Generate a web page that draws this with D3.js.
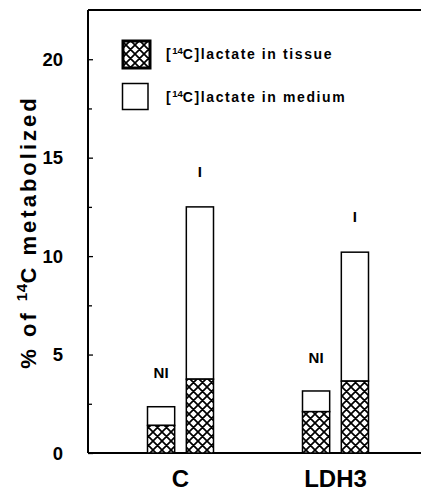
<!DOCTYPE html>
<html>
<head>
<meta charset="utf-8">
<script src="https://cdn.jsdelivr.net/npm/d3@7"></script>
<style>
  body { margin: 0; background: #fff; }
  svg { display: block; font-family: "Liberation Sans", Arial, sans-serif; font-weight: bold; }
</style>
</head>
<body>
<svg id="chart" width="421" height="494"></svg>
<script>
// values
const groups = ["C", "LDH3"];
const conditions = ["NI", "I"];
const tissueVals = [[1.4, 3.75], [2.1, 3.65]];   // hatched part
const totalVals = [[2.35, 12.5], [3.15, 10.2]];  // bar top (tissue + medium)
const labelVals = [[4.1, 14.3], [4.85, 12.0]];   // where NI / I labels sit
const yTicks = [0, 5, 10, 15, 20];
const yMinor = [2.5, 7.5, 12.5, 17.5];
const legendLabels = ["lactate in tissue", "lactate in medium"];

const svg = d3.select("#chart");
const plotLeft = 88, plotRight = 421, plotTop = 10, plotBottom = 453;

const y = d3.scaleLinear().domain([0, 22.5]).range([plotBottom, plotTop]);
const x = d3.scaleBand().domain(groups).range([103, 413]);
const xInner = d3.scaleBand().domain(conditions).range([-33, 33]).paddingInner(0.3);

// hatch pattern
const defs = svg.append("defs");
const pat = defs.append("pattern")
    .attr("id", "hatch")
    .attr("patternUnits", "userSpaceOnUse")
    .attr("width", 9).attr("height", 9);
pat.append("rect").attr("width", 9).attr("height", 9).attr("fill", "#fff");
pat.append("path")
    .attr("d", "M0,0 L9,9 M9,0 L0,9 M-1,8 L1,10 M8,-1 L10,1 M-1,1 L1,-1 M8,10 L10,8")
    .attr("stroke", "#000").attr("stroke-width", 1.7);

// frame lines
svg.append("line").attr("x1", plotLeft).attr("x2", plotRight).attr("y1", plotTop).attr("y2", plotTop)
    .attr("stroke", "#000").attr("stroke-width", 1.8);
svg.append("line").attr("x1", plotLeft).attr("x2", plotRight).attr("y1", plotBottom).attr("y2", plotBottom)
    .attr("stroke", "#000").attr("stroke-width", 2);

// y axis, ticks inward
const yAxis = svg.append("g").attr("transform", `translate(${plotLeft},0)`)
    .call(d3.axisRight(y).tickValues(yTicks).tickSize(5).tickFormat(""));
yAxis.select(".domain").attr("stroke-width", 2).attr("d", `M0,${plotTop}V${plotBottom}`);
svg.append("g").attr("transform", `translate(${plotLeft},0)`)
    .call(d3.axisRight(y).tickValues(yMinor).tickSize(4).tickFormat(""))
    .select(".domain").remove();
svg.selectAll(".tick line").attr("stroke-width", 1.3);

svg.append("g").selectAll("text").data(yTicks).join("text")
    .attr("x", 63).attr("y", d => y(d))
    .attr("dy", "0.36em")
    .attr("text-anchor", "end")
    .attr("font-size", 18.5)
    .text(d => d);

// bars
groups.forEach((g, gi) => {
  conditions.forEach((c, ci) => {
    const bx = x(g) + x.bandwidth() / 2 + xInner(c);
    const bw = xInner.bandwidth();
    svg.append("rect")
        .attr("x", bx).attr("y", y(totalVals[gi][ci]))
        .attr("width", bw).attr("height", y(tissueVals[gi][ci]) - y(totalVals[gi][ci]))
        .attr("fill", "#fff").attr("stroke", "#000").attr("stroke-width", 1.5);
    svg.append("rect")
        .attr("x", bx).attr("y", y(tissueVals[gi][ci]))
        .attr("width", bw).attr("height", y(0) - y(tissueVals[gi][ci]))
        .attr("fill", "url(#hatch)").attr("stroke", "#000").attr("stroke-width", 1.5);
    svg.append("text")
        .attr("x", bx + bw / 2).attr("y", y(labelVals[gi][ci]))
        .attr("dy", "0.36em")
        .attr("text-anchor", "middle")
        .attr("font-size", 15)
        .text(c);
  });
});

// group labels
svg.append("g").selectAll("text").data(groups).join("text")
    .attr("x", d => x(d) + x.bandwidth() / 2)
    .attr("y", 487)
    .attr("text-anchor", "middle")
    .attr("font-size", 24)
    .text(d => d);

// y label
const yl = svg.append("text")
    .attr("transform", "translate(36,232) rotate(-90)")
    .attr("text-anchor", "middle")
    .attr("font-size", 22)
    .attr("letter-spacing", 3);
yl.append("tspan").text("% of ");
yl.append("tspan").attr("font-size", 15).attr("dy", -9).attr("letter-spacing", 0.5).text("14");
yl.append("tspan").attr("dy", 9).text("C metabolized");

// legend
const legend = svg.append("g");
legendLabels.forEach((lab, i) => {
  const ly = 40 + i * 43;
  if (i === 0) {
    legend.append("rect").attr("x", 123).attr("y", ly + 1).attr("width", 27).attr("height", 27)
        .attr("fill", "url(#hatch)").attr("stroke", "#000").attr("stroke-width", 3);
  } else {
    legend.append("rect").attr("x", 122.5).attr("y", ly + 0.5).attr("width", 25.5).attr("height", 26)
        .attr("fill", "#fff").attr("stroke", "#000").attr("stroke-width", 1.5);
  }
  const t = legend.append("text")
      .attr("x", 166).attr("y", ly + 14)
      .attr("dy", "0.36em")
      .attr("font-size", 14)
      .attr("letter-spacing", 1.6);
  t.append("tspan").text("[");
  t.append("tspan").attr("font-size", 9.5).attr("dy", -5).attr("letter-spacing", 0).text("14");
  t.append("tspan").attr("dy", 5).text("C]" + lab);
});
</script>
</body>
</html>
